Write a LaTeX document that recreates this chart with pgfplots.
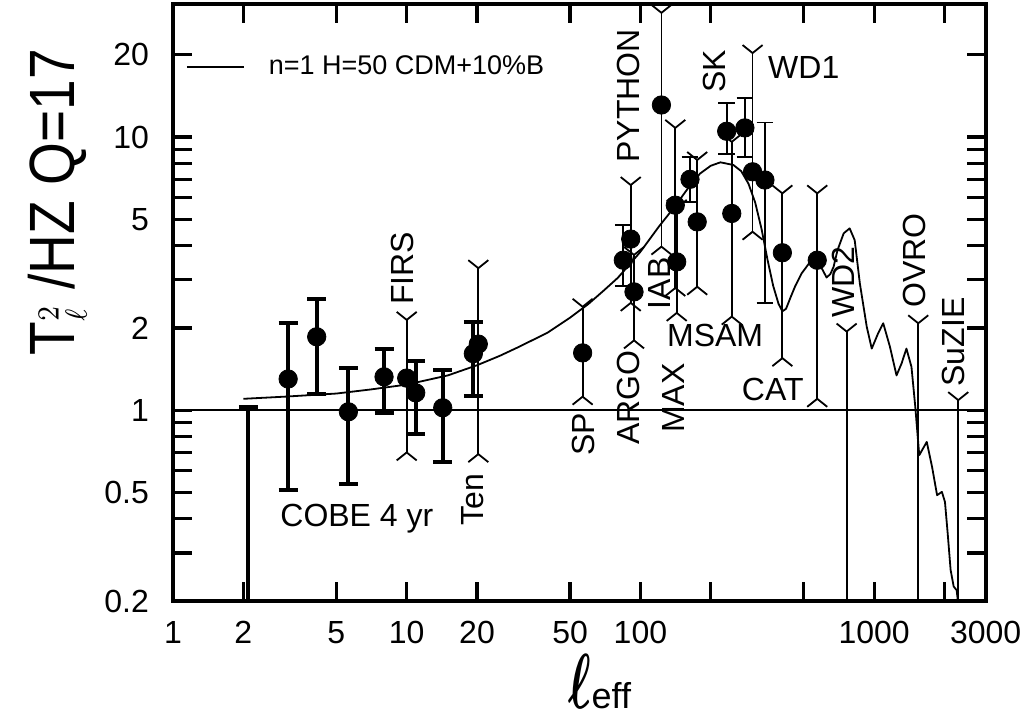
\documentclass[border=0pt]{standalone}
\usepackage{fontspec}
\setmainfont{Liberation Sans}
\usepackage{graphicx}
\usepackage{pgfplots}
\usepackage{pgfplotstable}
\pgfplotsset{compat=1.18}
\usetikzlibrary{calc}

\pgfdeclareplotmark{forkup}{%
  \pgfpathmoveto{\pgfqpoint{-5pt}{4pt}}\pgfpathlineto{\pgfqpoint{0pt}{0pt}}%
  \pgfpathlineto{\pgfqpoint{5pt}{4pt}}\pgfusepathqstroke}
\pgfdeclareplotmark{forkdown}{%
  \pgfpathmoveto{\pgfqpoint{-5pt}{-4pt}}\pgfpathlineto{\pgfqpoint{0pt}{0pt}}%
  \pgfpathlineto{\pgfqpoint{5pt}{-4pt}}\pgfusepathqstroke}
\pgfdeclareplotmark{capwide}{%
  \pgfpathmoveto{\pgfqpoint{-4.75pt}{0pt}}\pgfpathlineto{\pgfqpoint{4.75pt}{0pt}}\pgfusepathqstroke}
\pgfdeclareplotmark{capsk}{%
  \pgfpathmoveto{\pgfqpoint{-4.2pt}{0pt}}\pgfpathlineto{\pgfqpoint{4.2pt}{0pt}}\pgfusepathqstroke}

% model curve
\pgfplotstableread{
l v
2 1.10
3 1.12
5 1.15
7 1.19
10 1.24
15 1.34
20 1.46
25 1.58
30 1.70
40 1.92
50 2.18
60 2.45
70 2.75
80 3.05
90 3.42
100 3.80
120 4.70
140 5.55
160 6.50
180 7.35
200 7.85
220 8.08
250 7.90
270 7.50
290 6.75
310 5.75
330 4.60
350 3.55
370 2.85
390 2.45
405 2.30
420 2.35
440 2.60
460 2.85
490 3.17
530 3.47
565 3.58
600 3.28
626 3.06
650 3.15
671 3.35
697 3.85
741 4.44
786 4.63
826 4.19
869 2.91
930 2.02
977 1.68
1040 1.91
1094 2.08
1168 1.71
1247 1.34
1310 1.48
1375 1.68
1445 1.44
1500 1.03
1560 0.684
1680 0.765
1770 0.62
1860 0.488
1950 0.502
2010 0.461
2065 0.353
2125 0.26
2190 0.226
2255 0.219
2300 0.19
}\curvetab

% COBE 4 yr
\pgfplotstableread{
l v lo hi
3.11 1.30 0.509 2.08
4.12 1.856 1.15 2.55
5.63 0.986 0.536 1.43
8.0 1.324 0.98 1.67
10.93 1.157 0.815 1.51
14.26 1.02 0.647 1.40
19.28 1.61 1.128 2.095
}\cobetab
\pgfplotstableread{
l hi
2.1 1.03
}\cobelimtab

% experiments with fork ends
\pgfplotstableread{
l v lo hi
10.0 1.31 0.70 2.14
20.25 1.745 0.69 3.31
56.6 1.62 1.12 2.39
93.9 2.71 1.80 3.70
90.9 4.23 2.47 6.67
123 13.1 3.97 28.5
141 5.63 2.80 10.8
143 3.49 2.27 5.50
175 4.89 2.83 8.24
246 5.25 2.20 9.60
302 7.46 4.50 20.3
405 3.77 1.55 6.22
571 3.54 1.10 6.22
}\forktab

% Saskatoon
\pgfplotstableread{
l v lo hi
84.5 3.54 2.85 4.76
163 7.0 5.79 8.43
234 10.5 8.64 13.3
280 10.8 8.47 13.9
341 6.96 2.46 11.3
}\sktab

% upper limits WD2, OVRO, SuZIE
\pgfplotstableread{
l hi
763 1.94
1545 2.08
2291 1.088
}\limtab

\tikzset{lab/.style={font=\fontsize{16}{19}\selectfont, inner sep=0pt}}

\begin{document}
\begin{tikzpicture}
\begin{axis}[
  scale only axis, width=406.3pt, height=298.5pt,
  xmode=log, ymode=log,
  xmin=1, xmax=3000, ymin=0.2, ymax=30.7,
  axis line style={line width=2pt},
  tick style={line width=1.6pt, black},
  major tick length=9.5pt, minor tick length=9.5pt,
  xtick={1,2,5,10,20,50,100,200,500,1000,2000,3000},
  xticklabels={1,2,5,10,20,50,100,,,1000,,3000},
  ytick={0.2,0.5,1,2,5,10,20},
  yticklabels={0.2,0.5,1,2,5,10,20},
  minor ytick={0.3,0.4,0.6,0.7,0.8,0.9,3,4,6,7,8,9},
  tick label style={font=\fontsize{16}{19}\selectfont},
  yticklabel style={xshift=-8.5pt},
  xticklabel style={yshift=-6.5pt},
  /pgf/number format/assume math mode=true,
  ylabel={\scalebox{0.86}[1]{T{\fontsize{10}{12}\selectfont\scalebox{2.2}{$^{2}_{\ell}$}} /HZ Q=17}},
  ylabel style={font=\fontsize{32}{38}\selectfont, at={(rel axis cs:-0.1421,0.668)}, anchor=center},
  xlabel={\fontsize{10}{12}\selectfont\scalebox{2.4}[3.9]{\boldmath$\ell$}\fontsize{18}{20}\selectfont eff},
  xlabel style={at={(rel axis cs:0.5255,-0.1345)}, anchor=center, inner sep=0pt},
  legend style={at={(rel axis cs:0,1)}, anchor=west, xshift=6.5pt, yshift=-31.5pt,
    draw=none, fill=none, inner sep=0pt, outer sep=0pt,
    font=\fontsize{13.5}{16}\selectfont, nodes={inner sep=0pt}},
  legend image code/.code={\draw[line width=0.9pt] (0pt,0pt) -- (28.5pt,0pt); \path (40.5pt,0pt);},
]
% model
\addplot[black, line width=0.9pt, line join=round, mark=none] table[x=l, y=v]{\curvetab};
\addlegendentry{n=1 H=50 CDM+10\%B}
% unity line
\addplot[black, line width=0.9pt, mark=none, forget plot] coordinates {(1,1) (3000,1)};

% COBE
\addplot[black, only marks, mark=*, mark size=4.6pt, forget plot,
  error bars/.cd, y dir=both, y explicit, error mark=none,
  error bar style={line width=2pt}]
  table[x=l, y=v, y error plus expr=\thisrow{hi}-\thisrow{v}, y error minus expr=\thisrow{v}-\thisrow{lo}]{\cobetab};
\addplot[black, only marks, mark=capwide, mark options={line width=2pt}, forget plot] table[x=l, y=hi]{\cobetab};
\addplot[black, only marks, mark=capwide, mark options={line width=2pt}, forget plot] table[x=l, y=lo]{\cobetab};
\addplot[black, only marks, mark=capwide, mark options={line width=2pt}, forget plot,
  error bars/.cd, y dir=minus, y explicit, error mark=none,
  error bar style={line width=2pt}]
  table[x=l, y=hi, y error minus expr=\thisrow{hi}-0.1]{\cobelimtab};

% fork-ended experiments
\addplot[black, only marks, mark=*, mark size=4.6pt, forget plot,
  error bars/.cd, y dir=both, y explicit, error mark=none,
  error bar style={line width=0.9pt}]
  table[x=l, y=v, y error plus expr=\thisrow{hi}-\thisrow{v}, y error minus expr=\thisrow{v}-\thisrow{lo}]{\forktab};
\addplot[black, only marks, mark=forkup, mark options={line width=0.9pt}, forget plot] table[x=l, y=hi]{\forktab};
\addplot[black, only marks, mark=forkdown, mark options={line width=0.9pt}, forget plot] table[x=l, y=lo]{\forktab};

% Saskatoon
\addplot[black, only marks, mark=*, mark size=4.6pt, forget plot,
  error bars/.cd, y dir=both, y explicit, error mark=none,
  error bar style={line width=0.9pt}]
  table[x=l, y=v, y error plus expr=\thisrow{hi}-\thisrow{v}, y error minus expr=\thisrow{v}-\thisrow{lo}]{\sktab};
\addplot[black, only marks, mark=capsk, mark options={line width=0.9pt}, forget plot] table[x=l, y=hi]{\sktab};
\addplot[black, only marks, mark=capsk, mark options={line width=0.9pt}, forget plot] table[x=l, y=lo]{\sktab};

% upper limits
\addplot[black, only marks, mark=forkup, mark options={line width=0.9pt}, forget plot,
  error bars/.cd, y dir=minus, y explicit, error mark=none,
  error bar style={line width=0.9pt}]
  table[x=l, y=hi, y error minus expr=\thisrow{hi}-0.1]{\limtab};

% labels
\node[lab, rotate=90, anchor=west] at (axis cs:9.64,2.42) {FIRS};
\node[lab, rotate=90, anchor=east] at (axis cs:19.2,0.588) {Ten};
\node[lab, rotate=90, anchor=east] at (axis cs:56.8,0.98) {SP};
\node[lab, rotate=90, anchor=east] at (axis cs:88.5,1.66) {ARGO};
\node[lab, rotate=90, anchor=east] at (axis cs:139,1.486) {MAX};
\node[lab, rotate=90, anchor=east] at (axis cs:121,3.63) {IAB};
\node[lab, rotate=90, anchor=west] at (axis cs:88.5,8.03) {PYTHON};
\node[lab, rotate=90, anchor=west] at (axis cs:206.5,14.5) {SK};
\node[lab, rotate=90, anchor=west] at (axis cs:736,2.17) {WD2};
\node[lab, rotate=90, anchor=west] at (axis cs:1482,2.36) {OVRO};
\node[lab, rotate=90, anchor=west] at (axis cs:2176,1.217) {SuZIE};
\node[lab, anchor=base west] at (axis cs:129.6,1.706) {MSAM};
\node[lab, anchor=base west] at (axis cs:271,1.088) {CAT};
\node[lab, anchor=base west] at (axis cs:351,16.4) {WD1};
\node[lab, anchor=base west] at (axis cs:2.87,0.374) {COBE 4 yr};
\end{axis}
\pgfresetboundingbox
\path[use as bounding box] ($(current axis.south west)+(-86.5pt,-59pt)$) rectangle ++(517pt,359.5pt);
\end{tikzpicture}
\end{document}
